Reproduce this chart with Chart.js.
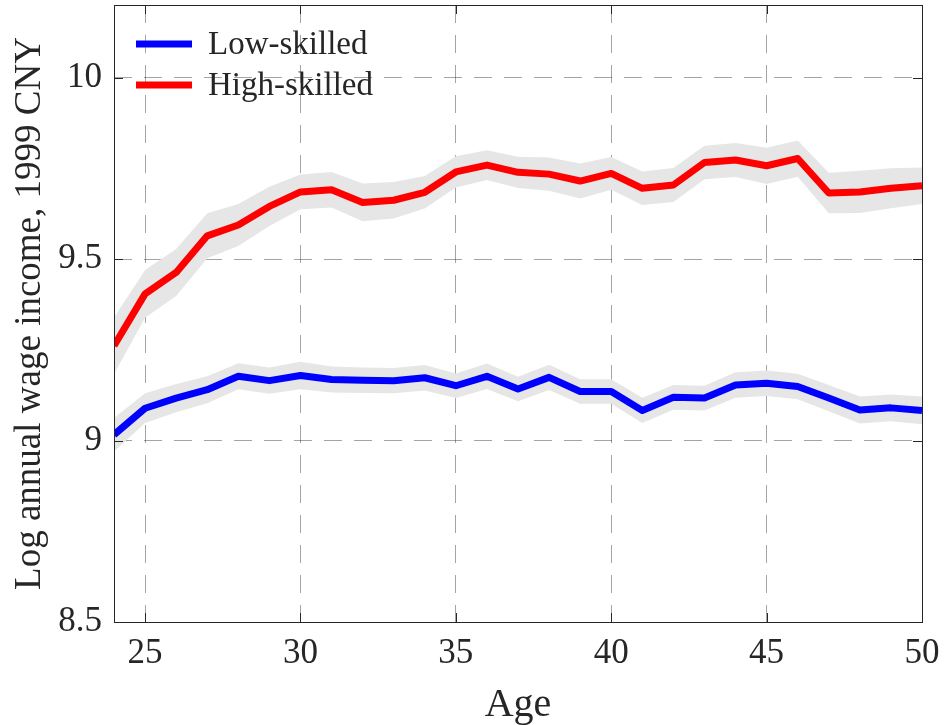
<!DOCTYPE html>
<html lang="en">
<head>
    <meta charset="UTF-8">
    <title>Log annual wage income by age</title>
    <script src="https://cdn.jsdelivr.net/npm/chart.js"></script>
    <style>
        html, body { margin: 0; padding: 0; background: #fff; }
        canvas { display: block; }
    </style>
</head>
<body>
    <canvas id="wageChart" width="944" height="725"></canvas>

    <script>
        // values
        const ages = [24, 25, 26, 27, 28, 29, 30, 31, 32, 33, 34, 35, 36, 37, 38, 39, 40, 41, 42, 43, 44, 45, 46, 47, 48, 49, 50];
        const lowSkilled  = [9.016, 9.089, 9.117, 9.140, 9.177, 9.165, 9.179, 9.168, 9.166, 9.165, 9.173, 9.151, 9.177, 9.142, 9.174, 9.135, 9.135, 9.083, 9.119, 9.117, 9.153, 9.158, 9.149, 9.117, 9.084, 9.090, 9.083];
        const highSkilled = [9.261, 9.404, 9.463, 9.564, 9.594, 9.645, 9.685, 9.691, 9.656, 9.662, 9.684, 9.740, 9.759, 9.739, 9.734, 9.715, 9.736, 9.695, 9.704, 9.766, 9.773, 9.757, 9.777, 9.682, 9.685, 9.695, 9.702];
        // half width of the grey confidence bands
        const lowBand  = [0.046, 0.041, 0.039, 0.037, 0.036, 0.036, 0.038, 0.036, 0.035, 0.035, 0.035, 0.034, 0.035, 0.034, 0.035, 0.034, 0.034, 0.035, 0.034, 0.034, 0.035, 0.035, 0.035, 0.036, 0.037, 0.037, 0.038];
        const highBand = [0.078, 0.066, 0.065, 0.062, 0.058, 0.054, 0.048, 0.049, 0.052, 0.050, 0.045, 0.043, 0.041, 0.043, 0.046, 0.048, 0.045, 0.046, 0.047, 0.046, 0.047, 0.050, 0.050, 0.056, 0.058, 0.055, 0.050];
        const seriesLabels = ["Low-skilled", "High-skilled"];
        const xTicks = [25, 30, 35, 40, 45, 50];
        const yTicks = [8.5, 9, 9.5, 10];

        const FONT = "'Liberation Serif', 'DejaVu Serif', serif";
        const INK = "#262626";
        const BAND = "#e6e6e6";

        const pts = (ys, off, sign) => ages.map((a, i) => ({ x: a, y: ys[i] + (off ? sign * off[i] : 0) }));

        function lineSet(label, ys, color) {
            return { label: label, data: pts(ys), borderColor: color, borderWidth: 7, pointRadius: 0,
                     fill: false, tension: 0, order: 0, borderJoinStyle: "round", isLine: true };
        }
        function bandSet(ys, off, sign, target) {
            return { label: "", data: pts(ys, off, sign), borderWidth: 0, borderColor: BAND, pointRadius: 0,
                     backgroundColor: BAND, fill: target, tension: 0, order: 1 };
        }

        // box, inner tick marks and legend in matlab style
        const frame = {
            id: "frame",
            afterDraw(chart) {
                const { ctx, chartArea: a, scales: { x, y } } = chart;
                ctx.save();
                ctx.strokeStyle = INK;
                ctx.lineWidth = 1;
                ctx.beginPath();
                xTicks.forEach(v => {
                    const px = Math.round(x.getPixelForValue(v)) + 0.5;
                    ctx.moveTo(px, a.bottom); ctx.lineTo(px, a.bottom - 9);
                    ctx.moveTo(px, a.top); ctx.lineTo(px, a.top + 9);
                });
                yTicks.forEach(v => {
                    const py = Math.round(y.getPixelForValue(v)) + 0.5;
                    ctx.moveTo(a.left, py); ctx.lineTo(a.left + 9, py);
                    ctx.moveTo(a.right, py); ctx.lineTo(a.right - 9, py);
                });
                ctx.stroke();
                ctx.strokeRect(Math.round(a.left) + 0.5, Math.round(a.top) + 0.5,
                               Math.round(a.right - a.left), Math.round(a.bottom - a.top));

                // legend
                ctx.font = "33px " + FONT;
                ctx.textBaseline = "middle";
                ctx.fillStyle = INK;
                chart.data.datasets.filter(d => d.isLine).forEach((d, i) => {
                    const ly = a.top + 39 + i * 41;
                    ctx.strokeStyle = d.borderColor;
                    ctx.lineWidth = 7;
                    ctx.beginPath();
                    ctx.moveTo(a.left + 22, ly); ctx.lineTo(a.left + 78, ly);
                    ctx.stroke();
                    ctx.fillText(d.label, a.left + 94, ly + 1);
                });
                ctx.restore();
            }
        };

        const gridStyle = {
            color: "rgba(38,38,38,0.42)",
            lineWidth: 1,
            drawTicks: false
        };

        new Chart(document.getElementById("wageChart").getContext("2d"), {
            type: "line",
            data: {
                datasets: [
                    lineSet(seriesLabels[0], lowSkilled, "#0000ff"),
                    lineSet(seriesLabels[1], highSkilled, "#ff0000"),
                    bandSet(lowSkilled, lowBand, 1, 3),
                    bandSet(lowSkilled, lowBand, -1, false),
                    bandSet(highSkilled, highBand, 1, 5),
                    bandSet(highSkilled, highBand, -1, false)
                ]
            },
            options: {
                responsive: false,
                devicePixelRatio: 1,
                animation: false,
                layout: { padding: { left: 0, right: 22, top: 5, bottom: 0 } },
                plugins: { legend: { display: false }, tooltip: { enabled: false } },
                scales: {
                    x: {
                        type: "linear",
                        min: 24, max: 50,
                        afterBuildTicks: s => { s.ticks = xTicks.map(v => ({ value: v })); },
                        afterFit: s => { s.height = 103; s.paddingLeft = 0; s.paddingRight = 0; },
                        grid: gridStyle,
                        border: { display: false, dash: [18, 12] },
                        ticks: { padding: 11, color: INK, font: { family: FONT, size: 35 }, maxRotation: 0 },
                        title: { display: true, text: "Age", color: INK, font: { family: FONT, size: 40, lineHeight: 1 }, padding: 0 }
                    },
                    y: {
                        min: 8.5, max: 10.2,
                        afterBuildTicks: s => { s.ticks = yTicks.map(v => ({ value: v })); },
                        afterFit: s => { s.width = 114; s.paddingTop = 0; s.paddingBottom = 0; },
                        grid: gridStyle,
                        border: { display: false, dash: [18, 12] },
                        ticks: { padding: 12, color: INK, font: { family: FONT, size: 35 }, callback: v => String(v) },
                        title: { display: true, text: "Log annual wage income, 1999 CNY", color: INK,
                                 font: { family: FONT, size: 37, lineHeight: 1.2 }, padding: { top: 8, bottom: 0 } }
                    }
                }
            },
            plugins: [frame]
        });
    </script>
</body>
</html>
